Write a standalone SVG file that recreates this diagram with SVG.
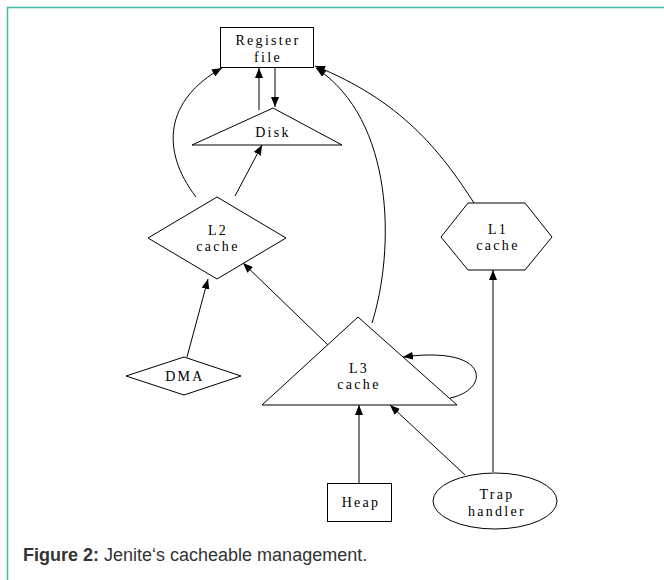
<svg xmlns="http://www.w3.org/2000/svg" width="664" height="580" viewBox="0 0 664 580">
<style>
.n{fill:#fff;stroke:#000;stroke-width:1}
.t{font-family:"Liberation Serif","Times New Roman",serif;font-size:14px;letter-spacing:2.3px;text-anchor:middle;fill:#000}
.e{fill:none;stroke:#000;stroke-width:1}
.cap{font-family:"Liberation Sans",Arial,sans-serif;font-size:18px;fill:#333}
</style>
<defs>
<marker id="ah" markerWidth="10" markerHeight="8" refX="10" refY="4" orient="auto" markerUnits="userSpaceOnUse">
<path d="M0,0 L10,4 L0,8 Z" fill="#000"/>
</marker>
</defs>
<rect x="0" y="0" width="664" height="580" fill="#fff"/>
<path d="M7.5,580 V7.5 H664" fill="none" stroke="#3dbba6" stroke-width="1.5"/>
<g id="connectors">
<path class="e" d="M275,68 V107" marker-end="url(#ah)"/>
<path class="e" d="M259,110 V68" marker-end="url(#ah)"/>
<path class="e" d="M196,197 C160,150 165,100 222,68" marker-end="url(#ah)"/>
<path class="e" d="M235,196 L262,145" marker-end="url(#ah)"/>
<path class="e" d="M372,323 C395,250 395,120 316,68" marker-end="url(#ah)"/>
<path class="e" d="M474,203 C440,150 400,100 315,66" marker-end="url(#ah)"/>
<path class="e" d="M328,345 L243,263" marker-end="url(#ah)"/>
<path class="e" d="M187,357 L208,279" marker-end="url(#ah)"/>
<path class="e" d="M450,398 C490,390 492,345 403,357" marker-end="url(#ah)"/>
<path class="e" d="M359,483 V405" marker-end="url(#ah)"/>
<path class="e" d="M465,475 L390,405" marker-end="url(#ah)"/>
<path class="e" d="M493,472 V270" marker-end="url(#ah)"/>
</g>
<g id="register-file">
<rect class="n" x="220.5" y="27.5" width="93" height="40"/>
<text class="t" x="268" y="45">Register</text>
<text class="t" x="268" y="62">file</text>
</g>
<g id="disk">
<polygon class="n" points="273,108 342,145 192,145"/>
<text class="t" x="273" y="137">Disk</text>
</g>
<g id="l2-cache">
<polygon class="n" points="217,197 286,238 217,279 148,238"/>
<text class="t" x="218" y="235">L2</text>
<text class="t" x="218" y="251">cache</text>
</g>
<g id="l1-cache">
<polygon class="n" points="468,203 525,203 552,237 525,270 468,270 441,237"/>
<text class="t" x="498" y="234">L1</text>
<text class="t" x="498" y="250">cache</text>
</g>
<g id="dma">
<polygon class="n" points="184,357 241,376 184,395 126,376"/>
<text class="t" x="185" y="381">DMA</text>
</g>
<g id="l3-cache">
<polygon class="n" points="358,317 457,405 262,405"/>
<text class="t" x="359" y="373">L3</text>
<text class="t" x="359" y="389">cache</text>
</g>
<g id="heap">
<rect class="n" x="327.5" y="483.5" width="64" height="38"/>
<text class="t" x="361" y="507">Heap</text>
</g>
<g id="trap-handler">
<ellipse class="n" cx="495" cy="501" rx="62" ry="28"/>
<text class="t" x="497" y="499">Trap</text>
<text class="t" x="497" y="516">handler</text>
</g>
<text class="cap" x="23" y="561"><tspan font-weight="bold">Figure 2:</tspan> Jenite‘s cacheable management.</text>
</svg>
